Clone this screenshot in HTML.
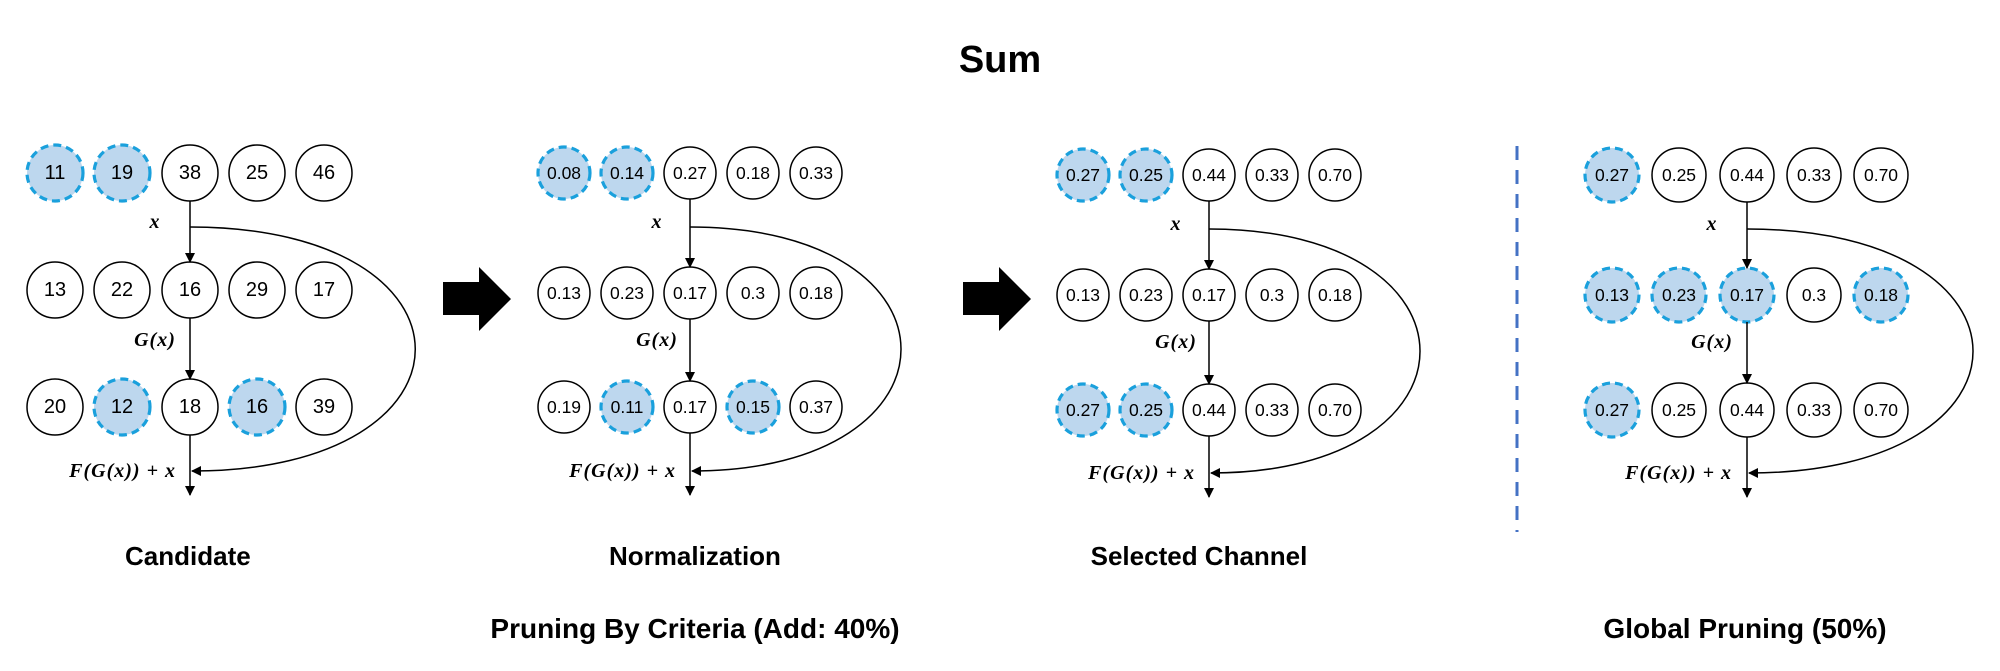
<!DOCTYPE html>
<html><head><meta charset="utf-8"><style>
html,body{margin:0;padding:0;background:#fff;}
svg{display:block;}
.n{font-family:"Liberation Sans",sans-serif;font-size:20px;text-anchor:middle;dominant-baseline:central;fill:#000;}
.d{font-size:17.5px;}
.m{font-family:"Liberation Serif",serif;font-weight:bold;font-style:italic;font-size:20px;fill:#000;letter-spacing:1px;}
.c{font-family:"Liberation Sans",sans-serif;font-weight:bold;font-size:26px;fill:#000;}
.c2{font-family:"Liberation Sans",sans-serif;font-weight:bold;font-size:28px;fill:#000;}
.w{fill:#fff;stroke:#000;stroke-width:1.5;}
.b{fill:#bdd7ee;stroke:#1aa0dc;stroke-width:3.2;stroke-dasharray:8 5;}
.l{stroke:#000;stroke-width:1.5;fill:none;}
</style></head><body>
<svg width="2000" height="671" viewBox="0 0 2000 671" xmlns="http://www.w3.org/2000/svg">
<defs><marker id="a" markerWidth="10" markerHeight="10" refX="9" refY="5" orient="auto" markerUnits="userSpaceOnUse"><path d="M0,0 L10,5 L0,10 z" fill="#000"/></marker></defs>
<text x="1000" y="72" text-anchor="middle" font-family="Liberation Sans,sans-serif" font-weight="bold" font-size="38">Sum</text>

<!-- Panel 1 -->
<g>
<circle class="b" cx="55" cy="173" r="28"/><text class="n" x="55" y="173">11</text>
<circle class="b" cx="122" cy="173" r="28"/><text class="n" x="122" y="173">19</text>
<circle class="w" cx="190" cy="173" r="28"/><text class="n" x="190" y="173">38</text>
<circle class="w" cx="257" cy="173" r="28"/><text class="n" x="257" y="173">25</text>
<circle class="w" cx="324" cy="173" r="28"/><text class="n" x="324" y="173">46</text>
<circle class="w" cx="55" cy="290" r="28"/><text class="n" x="55" y="290">13</text>
<circle class="w" cx="122" cy="290" r="28"/><text class="n" x="122" y="290">22</text>
<circle class="w" cx="190" cy="290" r="28"/><text class="n" x="190" y="290">16</text>
<circle class="w" cx="257" cy="290" r="28"/><text class="n" x="257" y="290">29</text>
<circle class="w" cx="324" cy="290" r="28"/><text class="n" x="324" y="290">17</text>
<circle class="w" cx="55" cy="407" r="28"/><text class="n" x="55" y="407">20</text>
<circle class="b" cx="122" cy="407" r="28"/><text class="n" x="122" y="407">12</text>
<circle class="w" cx="190" cy="407" r="28"/><text class="n" x="190" y="407">18</text>
<circle class="b" cx="257" cy="407" r="28"/><text class="n" x="257" y="407">16</text>
<circle class="w" cx="324" cy="407" r="28"/><text class="n" x="324" y="407">39</text>
<line class="l" x1="190" y1="201" x2="190" y2="262" marker-end="url(#a)"/>
<line class="l" x1="190" y1="318" x2="190" y2="379" marker-end="url(#a)"/>
<line class="l" x1="190" y1="435" x2="190" y2="495" marker-end="url(#a)"/>
<path class="l" d="M190,227 C490,227 490,471 192,471" marker-end="url(#a)"/>
<text class="m" x="155" y="228" text-anchor="middle">x</text>
<text class="m" x="155" y="346" text-anchor="middle">G(x)</text>
<text class="m" x="176" y="477" text-anchor="end">F(G(x)) + x</text>
<text class="c" x="125" y="565">Candidate</text>
</g>

<path d="M443,282 L479,282 L479,267 L511,299 L479,331 L479,315 L443,315 z" fill="#000"/>

<!-- Panel 2 -->
<g>
<circle class="b" cx="564" cy="173" r="26"/><text class="n d" x="564" y="173">0.08</text>
<circle class="b" cx="627" cy="173" r="26"/><text class="n d" x="627" y="173">0.14</text>
<circle class="w" cx="690" cy="173" r="26"/><text class="n d" x="690" y="173">0.27</text>
<circle class="w" cx="753" cy="173" r="26"/><text class="n d" x="753" y="173">0.18</text>
<circle class="w" cx="816" cy="173" r="26"/><text class="n d" x="816" y="173">0.33</text>
<circle class="w" cx="564" cy="293" r="26"/><text class="n d" x="564" y="293">0.13</text>
<circle class="w" cx="627" cy="293" r="26"/><text class="n d" x="627" y="293">0.23</text>
<circle class="w" cx="690" cy="293" r="26"/><text class="n d" x="690" y="293">0.17</text>
<circle class="w" cx="753" cy="293" r="26"/><text class="n d" x="753" y="293">0.3</text>
<circle class="w" cx="816" cy="293" r="26"/><text class="n d" x="816" y="293">0.18</text>
<circle class="w" cx="564" cy="407" r="26"/><text class="n d" x="564" y="407">0.19</text>
<circle class="b" cx="627" cy="407" r="26"/><text class="n d" x="627" y="407">0.11</text>
<circle class="w" cx="690" cy="407" r="26"/><text class="n d" x="690" y="407">0.17</text>
<circle class="b" cx="753" cy="407" r="26"/><text class="n d" x="753" y="407">0.15</text>
<circle class="w" cx="816" cy="407" r="26"/><text class="n d" x="816" y="407">0.37</text>
<line class="l" x1="690" y1="199" x2="690" y2="267" marker-end="url(#a)"/>
<line class="l" x1="690" y1="319" x2="690" y2="381" marker-end="url(#a)"/>
<line class="l" x1="690" y1="433" x2="690" y2="495" marker-end="url(#a)"/>
<path class="l" d="M690,227 C971,227 971,471 692,471" marker-end="url(#a)"/>
<text class="m" x="657" y="228" text-anchor="middle">x</text>
<text class="m" x="657" y="346" text-anchor="middle">G(x)</text>
<text class="m" x="676" y="477" text-anchor="end">F(G(x)) + x</text>
<text class="c" x="695" y="565" text-anchor="middle">Normalization</text>
</g>

<path d="M963,282 L999,282 L999,267 L1031,299 L999,331 L999,315 L963,315 z" fill="#000"/>

<!-- Panel 3 -->
<g>
<circle class="b" cx="1083" cy="175" r="26"/><text class="n d" x="1083" y="175">0.27</text>
<circle class="b" cx="1146" cy="175" r="26"/><text class="n d" x="1146" y="175">0.25</text>
<circle class="w" cx="1209" cy="175" r="26"/><text class="n d" x="1209" y="175">0.44</text>
<circle class="w" cx="1272" cy="175" r="26"/><text class="n d" x="1272" y="175">0.33</text>
<circle class="w" cx="1335" cy="175" r="26"/><text class="n d" x="1335" y="175">0.70</text>
<circle class="w" cx="1083" cy="295" r="26"/><text class="n d" x="1083" y="295">0.13</text>
<circle class="w" cx="1146" cy="295" r="26"/><text class="n d" x="1146" y="295">0.23</text>
<circle class="w" cx="1209" cy="295" r="26"/><text class="n d" x="1209" y="295">0.17</text>
<circle class="w" cx="1272" cy="295" r="26"/><text class="n d" x="1272" y="295">0.3</text>
<circle class="w" cx="1335" cy="295" r="26"/><text class="n d" x="1335" y="295">0.18</text>
<circle class="b" cx="1083" cy="410" r="26"/><text class="n d" x="1083" y="410">0.27</text>
<circle class="b" cx="1146" cy="410" r="26"/><text class="n d" x="1146" y="410">0.25</text>
<circle class="w" cx="1209" cy="410" r="26"/><text class="n d" x="1209" y="410">0.44</text>
<circle class="w" cx="1272" cy="410" r="26"/><text class="n d" x="1272" y="410">0.33</text>
<circle class="w" cx="1335" cy="410" r="26"/><text class="n d" x="1335" y="410">0.70</text>
<line class="l" x1="1209" y1="201" x2="1209" y2="269" marker-end="url(#a)"/>
<line class="l" x1="1209" y1="321" x2="1209" y2="384" marker-end="url(#a)"/>
<line class="l" x1="1209" y1="436" x2="1209" y2="497" marker-end="url(#a)"/>
<path class="l" d="M1209,229 C1490,229 1490,473 1211,473" marker-end="url(#a)"/>
<text class="m" x="1176" y="230" text-anchor="middle">x</text>
<text class="m" x="1176" y="348" text-anchor="middle">G(x)</text>
<text class="m" x="1195" y="479" text-anchor="end">F(G(x)) + x</text>
<text class="c" x="1199" y="565" text-anchor="middle">Selected Channel</text>
</g>

<text class="c2" x="695" y="638" text-anchor="middle">Pruning By Criteria (Add: 40%)</text>

<line x1="1517" y1="146" x2="1517" y2="532" stroke="#4472c4" stroke-width="3" stroke-dasharray="14 10"/>

<!-- Panel 4 -->
<g>
<circle class="b" cx="1612" cy="175" r="27"/><text class="n d" x="1612" y="175">0.27</text>
<circle class="w" cx="1679" cy="175" r="27"/><text class="n d" x="1679" y="175">0.25</text>
<circle class="w" cx="1747" cy="175" r="27"/><text class="n d" x="1747" y="175">0.44</text>
<circle class="w" cx="1814" cy="175" r="27"/><text class="n d" x="1814" y="175">0.33</text>
<circle class="w" cx="1881" cy="175" r="27"/><text class="n d" x="1881" y="175">0.70</text>
<circle class="b" cx="1612" cy="295" r="27"/><text class="n d" x="1612" y="295">0.13</text>
<circle class="b" cx="1679" cy="295" r="27"/><text class="n d" x="1679" y="295">0.23</text>
<circle class="b" cx="1747" cy="295" r="27"/><text class="n d" x="1747" y="295">0.17</text>
<circle class="w" cx="1814" cy="295" r="27"/><text class="n d" x="1814" y="295">0.3</text>
<circle class="b" cx="1881" cy="295" r="27"/><text class="n d" x="1881" y="295">0.18</text>
<circle class="b" cx="1612" cy="410" r="27"/><text class="n d" x="1612" y="410">0.27</text>
<circle class="w" cx="1679" cy="410" r="27"/><text class="n d" x="1679" y="410">0.25</text>
<circle class="w" cx="1747" cy="410" r="27"/><text class="n d" x="1747" y="410">0.44</text>
<circle class="w" cx="1814" cy="410" r="27"/><text class="n d" x="1814" y="410">0.33</text>
<circle class="w" cx="1881" cy="410" r="27"/><text class="n d" x="1881" y="410">0.70</text>
<line class="l" x1="1747" y1="202" x2="1747" y2="268" marker-end="url(#a)"/>
<line class="l" x1="1747" y1="322" x2="1747" y2="383" marker-end="url(#a)"/>
<line class="l" x1="1747" y1="437" x2="1747" y2="497" marker-end="url(#a)"/>
<path class="l" d="M1747,229 C2048,229 2048,473 1749,473" marker-end="url(#a)"/>
<text class="m" x="1712" y="230" text-anchor="middle">x</text>
<text class="m" x="1712" y="348" text-anchor="middle">G(x)</text>
<text class="m" x="1732" y="479" text-anchor="end">F(G(x)) + x</text>
</g>

<text class="c2" x="1745" y="638" text-anchor="middle">Global Pruning (50%)</text>
</svg>
</body></html>
